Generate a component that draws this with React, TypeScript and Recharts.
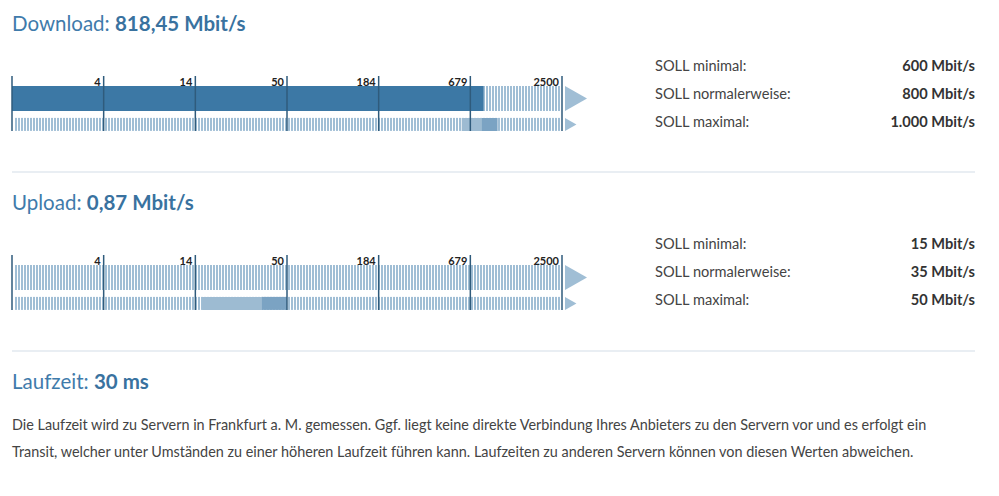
import React from "react";
import { BarChart, Bar, XAxis, YAxis, ReferenceLine } from "recharts";

// log scale ticks (2500^(k/6)), labels are rounded
const tickValues = [1, 3.684, 13.572, 50, 184.2, 678.6, 2500];

const gaugeTitles = ["Download", "Upload"];
const measuredValues = [818.45, 0.87];
const sollMin = [600, 15];
const sollNormal = [800, 35];
const sollMax = [1000, 50];
const sollLabels = ["SOLL minimal:", "SOLL normalerweise:", "SOLL maximal:"];
const latencyMs = 30;
const latencyText = [
  "Die Laufzeit wird zu Servern in Frankfurt a. M. gemessen. Ggf. liegt keine direkte Verbindung Ihres Anbieters zu den Servern vor und es erfolgt ein",
  "Transit, welcher unter Umständen zu einer höheren Laufzeit führen kann. Laufzeiten zu anderen Servern können von diesen Werten abweichen.",
];

const FONT = "Lato, 'Open Sans', sans-serif";
const BLUE = "#3c78a5";
const LIGHT = "#a0bed5";

function fmt(v: number) {
  const s = Number.isInteger(v) ? String(v) : v.toFixed(2);
  const [int, dec] = s.split(".");
  const grouped = int.replace(/\B(?=(\d{3})+(?!\d))/g, ".");
  return dec ? grouped + "," + dec : grouped;
}

const TickLabel = (props: any) => {
  const { x, y, payload, index } = props;
  if (index === 0) return null;
  return (
    <text
      x={x - 3}
      y={y + 10}
      textAnchor="end"
      fontSize={11}
      fontWeight={700}
      fill="#222"
      fontFamily={FONT}
    >
      {Math.round(payload.value)}
    </text>
  );
};

const Track = (props: any) => {
  const { x, y, width, height, pid } = props;
  const tip = height * 0.88;
  const end = x + width + 3;
  return (
    <g>
      <rect x={x + 2} y={y} width={width - 3} height={height} fill={`url(#${pid})`} />
      <polygon
        points={`${end},${y} ${end},${y + height} ${end + tip},${y + height / 2}`}
        fill={LIGHT}
      />
    </g>
  );
};

function Gauge({ index, top }: { index: number; top: number }) {
  const pid = `stripes${index}`;
  const row = [
    {
      name: gaugeTitles[index],
      ist: measuredValues[index],
      low: [sollMin[index], sollNormal[index]],
      high: [sollNormal[index], sollMax[index]],
    },
  ];
  return (
    <div style={{ position: "absolute", left: 0, top }}>
      <BarChart
        width={600}
        height={72}
        data={row}
        layout="vertical"
        barGap={6.9}
        margin={{ top: 6, right: 38, bottom: 1, left: 12 }}
      >
        <defs>
          <pattern id={pid} width={3} height={4} patternUnits="userSpaceOnUse">
            <rect x={0} width={2} height={4} fill={LIGHT} />
          </pattern>
        </defs>
        <XAxis
          type="number"
          scale="log"
          domain={[1, 2500]}
          ticks={tickValues}
          interval={0}
          orientation="top"
          height={10}
          tickSize={0}
          tickMargin={0}
          axisLine={false}
          tickLine={false}
          allowDataOverflow
          tick={<TickLabel />}
        />
        <YAxis yAxisId="a" type="category" dataKey="name" hide padding={{ top: 10, bottom: 0 }} />
        <YAxis yAxisId="b" type="category" dataKey="name" hide padding={{ top: 10, bottom: 0 }} />
        <Bar
          yAxisId="a"
          dataKey="ist"
          barSize={25}
          fill={BLUE}
          background={<Track pid={pid} />}
          isAnimationActive={false}
        />
        <Bar
          yAxisId="a"
          dataKey="low"
          barSize={13}
          fill="#9dbbd2"
          background={<Track pid={pid} />}
          isAnimationActive={false}
        />
        <Bar yAxisId="b" dataKey="none" barSize={25} fill="none" isAnimationActive={false} />
        <Bar yAxisId="b" dataKey="high" barSize={13} fill="#7ba3c3" isAnimationActive={false} />
        {tickValues.map((v) => (
          <ReferenceLine key={v} x={v} yAxisId="a" stroke="#2f5b7c" strokeWidth={1.5} />
        ))}
      </BarChart>
    </div>
  );
}

function Title({ label, value, top }: { label: string; value: string; top: number }) {
  return (
    <div
      style={{
        position: "absolute",
        left: 12,
        top,
        height: 30,
        lineHeight: "30px",
        fontSize: 20.5,
        fontFamily: FONT,
        color: "#3f7bab",
        whiteSpace: "nowrap",
      }}
    >
      {label}: <b style={{ color: "#39729f" }}>{value}</b>
    </div>
  );
}

function SollTable({ index, top }: { index: number; top: number }) {
  const vals = [sollMin[index], sollNormal[index], sollMax[index]];
  return (
    <div style={{ position: "absolute", left: 655, top, width: 320 }}>
      {sollLabels.map((l, i) => (
        <div
          key={l}
          style={{
            display: "flex",
            justifyContent: "space-between",
            height: 28,
            lineHeight: "28px",
            fontSize: 14.6,
            fontFamily: FONT,
            color: "#444",
          }}
        >
          <span>{l}</span>
          <b style={{ color: "#333" }}>{fmt(vals[i])} Mbit/s</b>
        </div>
      ))}
    </div>
  );
}

const Separator = ({ top }: { top: number }) => (
  <div style={{ position: "absolute", left: 12, top, width: 963, height: 2, background: "#e9eef3" }} />
);

export default function App() {
  return (
    <div style={{ position: "absolute", left: 0, top: 0, width: 999, height: 496, background: "#fff" }}>
      <Title label={gaugeTitles[0]} value={`${fmt(measuredValues[0])} Mbit/s`} top={8} />
      <Gauge index={0} top={60} />
      <SollTable index={0} top={52} />
      <Separator top={171} />

      <Title label={gaugeTitles[1]} value={`${fmt(measuredValues[1])} Mbit/s`} top={187} />
      <Gauge index={1} top={239} />
      <SollTable index={1} top={230} />
      <Separator top={350} />

      <Title label="Laufzeit" value={`${latencyMs} ms`} top={366} />
      <div
        style={{
          position: "absolute",
          left: 12,
          top: 411,
          fontSize: 14.4,
          lineHeight: "27px",
          fontFamily: FONT,
          color: "#444",
          whiteSpace: "nowrap",
        }}
      >
        {latencyText.map((t) => (
          <div key={t}>{t}</div>
        ))}
      </div>
    </div>
  );
}
